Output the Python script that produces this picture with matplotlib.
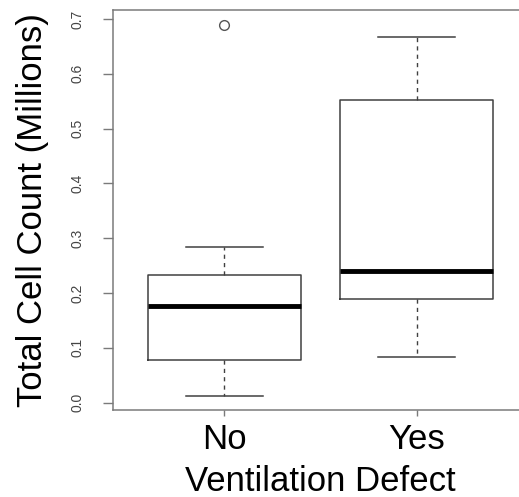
import matplotlib
matplotlib.use("Agg")
import matplotlib.pyplot as plt

# box summary per group (millions of cells)
groups = ["No", "Yes"]
whisker_low = [0.013, 0.084]
q1 = [0.078, 0.189]
medians = [0.177, 0.240]
q3 = [0.233, 0.552]
whisker_high = [0.284, 0.668]
outliers = [[0.689], []]

plt.rcParams['font.family'] = ['Liberation Sans', 'DejaVu Sans']

fig = plt.figure(figsize=(5.19, 4.97), dpi=100)
ax = fig.add_axes([0.2177, 0.175, 0.7996, 0.805])

stats = []
for i, name in enumerate(groups):
    stats.append(dict(label=name, med=medians[i], q1=q1[i], q3=q3[i],
                      whislo=whisker_low[i], whishi=whisker_high[i],
                      fliers=outliers[i]))

line_col = "#404040"
ax.bxp(stats, positions=[1, 2], widths=0.8, capwidths=0.4,
       boxprops=dict(color=line_col, linewidth=1.1),
       whiskerprops=dict(color=line_col, linewidth=1.0, linestyle=(0, (3, 3))),
       capprops=dict(color=line_col, linewidth=1.1),
       medianprops=dict(color="black", linewidth=3.5, solid_capstyle="butt"),
       flierprops=dict(marker="o", markersize=7, markerfacecolor="none",
                       markeredgecolor="#555555", markeredgewidth=1.0))

ax.set_xlim(0.42, 2.58)
ax.set_ylim(-0.0135, 0.7165)

axis_col = "#7a7a7a"
for side in ["left", "top", "bottom"]:
    ax.spines[side].set_color(axis_col)
    ax.spines[side].set_linewidth(1.1)
ax.spines["right"].set_visible(False)

ax.set_yticks([0.0, 0.1, 0.2, 0.3, 0.4, 0.5, 0.6, 0.7])
ax.set_yticklabels(["0.0", "0.1", "0.2", "0.3", "0.4", "0.5", "0.6", "0.7"],
                   rotation=90, va="center", fontsize=10, color="#444444")
ax.tick_params(axis="y", length=7.5, width=1.0, color=axis_col, pad=13)

ax.set_xticks([1, 2])
ax.set_xticklabels(groups, fontsize=25, color="black")
ax.tick_params(axis="x", length=4.5, width=1.0, color=axis_col, pad=5)

ax.set_xlabel("Ventilation Defect", fontsize=25, labelpad=6)
ax.set_ylabel("Total Cell Count (Millions)", fontsize=25, va="center")
ax.yaxis.set_label_coords(-0.195, 0.5)

fig.savefig("out.png", dpi=100)
